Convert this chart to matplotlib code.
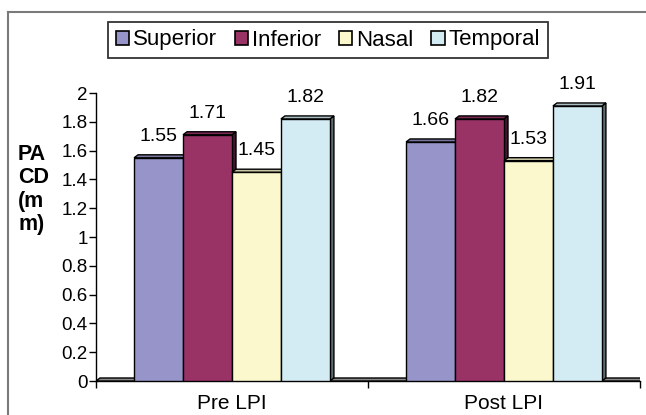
import matplotlib
matplotlib.use("Agg")
import matplotlib.pyplot as plt
from matplotlib.patches import Polygon, Rectangle
from matplotlib.lines import Line2D
import matplotlib.colors as mcolors

plt.rcParams['font.family'] = ['Liberation Sans', 'DejaVu Sans']

groups = ["Pre LPI", "Post LPI"]
series = ["Superior", "Inferior", "Nasal", "Temporal"]
superior = [1.55, 1.66]
inferior = [1.71, 1.82]
nasal = [1.45, 1.53]
temporal = [1.82, 1.91]
values = [superior, inferior, nasal, temporal]
colors = ["#9694C8", "#993366", "#FAF8CC", "#D3EBF3"]
y_ticks = [0, 0.2, 0.4, 0.6, 0.8, 1, 1.2, 1.4, 1.6, 1.8, 2]

W, H = 646, 415
fig = plt.figure(figsize=(W / 100, H / 100), dpi=100)
ax_l, ax_r, ax_b, ax_t = 96, 640, 381, 93
ax = fig.add_axes([ax_l / W, 1 - ax_b / H, (ax_r - ax_l) / W, (ax_b - ax_t) / H])
ax.set_xlim(0, 2)
ax.set_ylim(0, 2)

# 3D depth offsets in data units
px_x = (ax_r - ax_l) / 2.0
px_y = (ax_b - ax_t) / 2.0
DX = 4 / px_x
DY = 3 / px_y


def shade(c, f):
    r, g, b = mcolors.to_rgb(c)
    return (r * f, g * f, b * f)


# floor slab
floor = Polygon([(0, 0), (2, 0), (2 + DX, DY), (0 + DX, DY)], closed=True,
                facecolor="#8a8a8a", edgecolor="black", linewidth=1.0, zorder=1)
ax.add_patch(floor)

bar_w = 0.18
for gi in range(len(groups)):
    center = gi + 0.5
    for si in range(len(series)):
        x0 = center - 2 * bar_w + si * bar_w
        v = values[si][gi]
        z = 2 + si * 0.1 + gi
        ax.bar(x0, v, width=bar_w, align="edge", color=colors[si],
               edgecolor="black", linewidth=1.0, zorder=z + 0.05)
        # right side face
        side = Polygon([(x0 + bar_w, 0), (x0 + bar_w + DX, DY),
                        (x0 + bar_w + DX, v + DY), (x0 + bar_w, v)], closed=True,
                       facecolor=shade(colors[si], 0.45), edgecolor="black",
                       linewidth=1.0, zorder=z)
        ax.add_patch(side)
        # top face
        top = Polygon([(x0, v), (x0 + bar_w, v), (x0 + bar_w + DX, v + DY),
                       (x0 + DX, v + DY)], closed=True,
                      facecolor=shade(colors[si], 0.8), edgecolor="black",
                      linewidth=1.0, zorder=z + 0.06)
        ax.add_patch(top)
        ax.text(x0 + bar_w / 2, v + DY + 0.07, f"{v:.2f}", ha="center",
                va="bottom", fontsize=14, zorder=20)

# axes styling
for s in ["top", "right"]:
    ax.spines[s].set_visible(False)
ax.spines["left"].set_linewidth(1.0)
ax.spines["bottom"].set_linewidth(1.0)
ax.spines["bottom"].set_zorder(0.5)
ax.set_yticks(y_ticks)
ax.set_yticklabels([f"{t:g}" for t in y_ticks], fontsize=13.5)
ax.tick_params(axis="y", direction="out", length=5, width=1, pad=1)
ax.set_xticks([0.5, 1.5])
ax.set_xticklabels(groups, fontsize=15)
ax.set_xticks([0, 1, 2], minor=True)
ax.tick_params(axis="x", which="major", length=0, pad=9)
ax.tick_params(axis="x", which="minor", direction="out", length=5, width=1)

# y-axis title wrapped over four lines
for i, line in enumerate(["PA", "CD", "(m", "m)"]):
    fig.text(18 / W, 1 - (154 + i * 23.5) / H, line, fontsize=15.5,
             fontweight="bold", ha="left", va="center")

# legend
handles = [Rectangle((0, 0), 1, 1, facecolor=c, edgecolor="black", linewidth=1.2)
           for c in colors]
leg = fig.legend(handles, series, loc="center", ncol=4,
                 bbox_to_anchor=(328 / W, 1 - 40 / H), fontsize=16,
                 frameon=True, fancybox=False, handlelength=0.6,
                 handleheight=0.6, handletextpad=0.18, columnspacing=0.8,
                 borderpad=0.35, borderaxespad=0)
leg.get_frame().set_edgecolor("black")
leg.get_frame().set_linewidth(1.3)

# chart area border (top and left)
fig.add_artist(Line2D([8 / W, 1], [1 - 12 / H, 1 - 12 / H], color="#7a7a7a",
                      linewidth=1.5, transform=fig.transFigure))
fig.add_artist(Line2D([8 / W, 8 / W], [0, 1 - 12 / H], color="#7a7a7a",
                      linewidth=1.5, transform=fig.transFigure))

fig.savefig("out.png", dpi=100)
